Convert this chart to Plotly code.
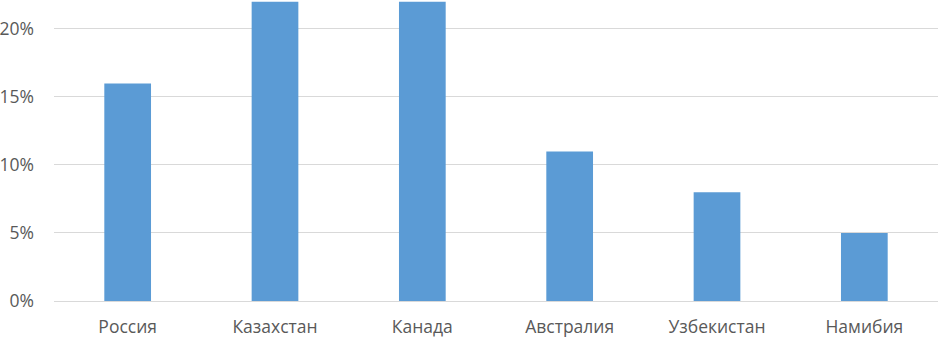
import plotly.graph_objects as go

countries = ["Россия", "Казахстан", "Канада", "Австралия", "Узбекистан", "Намибия"]
shares = [0.16, 0.22, 0.22, 0.11, 0.08, 0.05]
y_ticks = [0, 0.05, 0.10, 0.15, 0.20]
y_tick_labels = ["0%", "5%", "10%", "15%", "20%"]

fig = go.Figure(go.Bar(
    x=countries, y=shares, marker_color="#5b9bd5", width=0.317,
    marker_line_width=0,
))
fig.update_layout(
    width=940, height=339,
    margin=dict(l=54, r=2, t=0, b=38),
    paper_bgcolor="white", plot_bgcolor="white",
    font=dict(family="Open Sans, sans-serif", size=17.5, color="#595959"),
    showlegend=False,
    bargap=0.683,
)
fig.update_yaxes(
    range=[0, 0.2213], tickvals=y_ticks, ticktext=y_tick_labels,
    showgrid=True, gridcolor="#d9d9d9", gridwidth=1,
    zeroline=True, zerolinecolor="#d9d9d9", zerolinewidth=1,
    showline=False, ticks="", ticklabelstandoff=19,
)
fig.update_xaxes(showgrid=False, showline=False, ticks="", ticklabelstandoff=13)
fig.write_html("out.html", config={"displayModeBar": False},
               post_script="document.body.style.margin='0';")
